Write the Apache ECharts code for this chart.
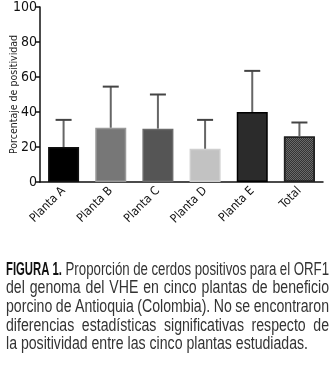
<!DOCTYPE html>
<html><head><meta charset="utf-8">
<script src="https://cdn.jsdelivr.net/npm/echarts@6/dist/echarts.min.js"></script>
<style>html,body{margin:0;padding:0;background:#fff}#c{width:335px;height:368px}</style>
</head><body><div id="c"></div>
<script>
var categories = ['Planta A','Planta B','Planta C','Planta D','Planta E','Total'];
var values = [20, 31, 30.5, 19, 40, 26];
var upper = [35.5, 54.5, 50, 35.5, 63.5, 34];
var fills = ['#000000','#777777','#555555','#c2c2c2','#2b2b2b','#6a6a6a'];
var borders = ['#111111','#999999','#6a6a6a','#cfcfcf','#000000','#222222'];
var yTicks = [0,20,40,60,80,100];
var captionBold = 'FIGURA 1.';
var captionLines = [
  'Proporción de cerdos positivos para el ORF1',
  'del genoma del VHE en cinco plantas de beneficio',
  'porcino de Antioquia (Colombia). No se encontraron',
  'diferencias estadísticas significativas respecto de',
  'la positividad entre las cinco plantas estudiadas.'
];
var FONT = '"DejaVu Sans Condensed", "Liberation Sans", sans-serif';
var CFONT = '"Liberation Sans", Arial, sans-serif';

// caption layout (justified, horizontally condensed text)
var cv = document.createElement('canvas').getContext('2d');
var CFS = 17.5;
function tw(t, bold){ cv.font = (bold?'bold ':'') + CFS + 'px ' + CFONT; return cv.measureText(t).width; }
var LEFT = 6, W = 323, TOP0 = 261, LH = 18.6;
var BOLDW = 56;
var boldSX = BOLDW / tw(captionBold, true);
function fitScale(i, gapMin){
  var words = captionLines[i].split(' ');
  var natNoSpaces = words.reduce(function(a,w){return a+tw(w,false);},0);
  var avail = W - (i===0 ? BOLDW : 0);
  var nGaps = words.length - 1 + (i===0?1:0);
  return (avail - nGaps*gapMin) / natNoSpaces;
}
var SX = 10;
for (var i=1;i<captionLines.length-1;i++){ SX = Math.min(SX, fitScale(i, 3.5)); }
var graphics = [];
captionLines.forEach(function(line, i){
  var sx = (i===0) ? Math.min(SX, fitScale(0, 3.5)) : SX;
  var words = line.split(' ');
  var items = [];
  if (i===0) items.push({t:captionBold, b:true});
  words.forEach(function(w){ items.push({t:w, b:false}); });
  var widths = items.map(function(it){ return it.b ? BOLDW : tw(it.t, false)*sx; });
  var sum = widths.reduce(function(a,b){return a+b;},0);
  var last = (i===captionLines.length-1);
  var gap = last ? tw(' ',false)*sx : (W-sum)/(items.length-1);
  var x = LEFT;
  items.forEach(function(it, j){
    graphics.push({type:'text', x:x, y:TOP0+i*LH, scaleX:it.b?boldSX:sx, style:{text:it.t, fontFamily:CFONT, fontSize:CFS, fontWeight:it.b?'bold':'normal', fill:it.b?'#111':'#333'}});
    x += widths[j] + gap;
  });
});

var chart = echarts.init(document.getElementById('c'));
var barData = values.map(function(v,i){
  var it = {value:v, itemStyle:{color:fills[i], borderColor:borders[i], borderWidth:1.5}};
  if (i===5) it.itemStyle.decal = {symbol:'rect', symbolSize:1, color:'rgba(30,30,30,0.7)', dashArrayX:[[1,1],[0,1,1,0]], dashArrayY:[1,0], rotation:0};
  return it;
});
var errData = values.map(function(v,i){ return [i, v, upper[i]]; });
chart.setOption({
  animation:false,
  grid:{left:40, right:12, top:7, bottom:186, containLabel:false, outerBoundsMode:'none'},
  xAxis:{type:'category', data:categories,
    axisLine:{lineStyle:{color:'#111', width:1.5}},
    axisTick:{alignWithLabel:true, length:5, lineStyle:{color:'#111', width:1.5}},
    axisLabel:{rotate:45, fontFamily:FONT, fontSize:12, color:'#111', margin:7}},
  yAxis:{type:'value', min:0, max:100, interval:20,
    name:'Porcentaje de positividad', nameLocation:'middle', nameGap:20, nameMoveOverlap:false,
    nameTextStyle:{fontFamily:FONT, fontSize:10.5, color:'#222'},
    axisLine:{show:true, lineStyle:{color:'#111', width:1.5}},
    axisTick:{show:true, length:5, lineStyle:{color:'#111', width:1.5}},
    splitLine:{show:false},
    axisLabel:{fontFamily:FONT, fontSize:14, color:'#111', margin:3,
      formatter:function(v){ return yTicks.indexOf(v)>=0 ? String(v) : ''; }}},
  series:[
    {type:'bar', data:barData, barWidth:31, z:2},
    {type:'custom', z:3, data:errData,
      renderItem:function(params, api){
        var x = api.value(0);
        var p0 = api.coord([x, api.value(1)]);
        var p1 = api.coord([x, api.value(2)]);
        return {type:'group', children:[
          {type:'line', shape:{x1:p0[0], y1:p0[1], x2:p1[0], y2:p1[1]}, style:{stroke:'#666', lineWidth:2}},
          {type:'line', shape:{x1:p1[0]-8, y1:p1[1], x2:p1[0]+8, y2:p1[1]}, style:{stroke:'#444', lineWidth:2}}
        ]};
      }}
  ],
  graphic:graphics
});
</script></body></html>
